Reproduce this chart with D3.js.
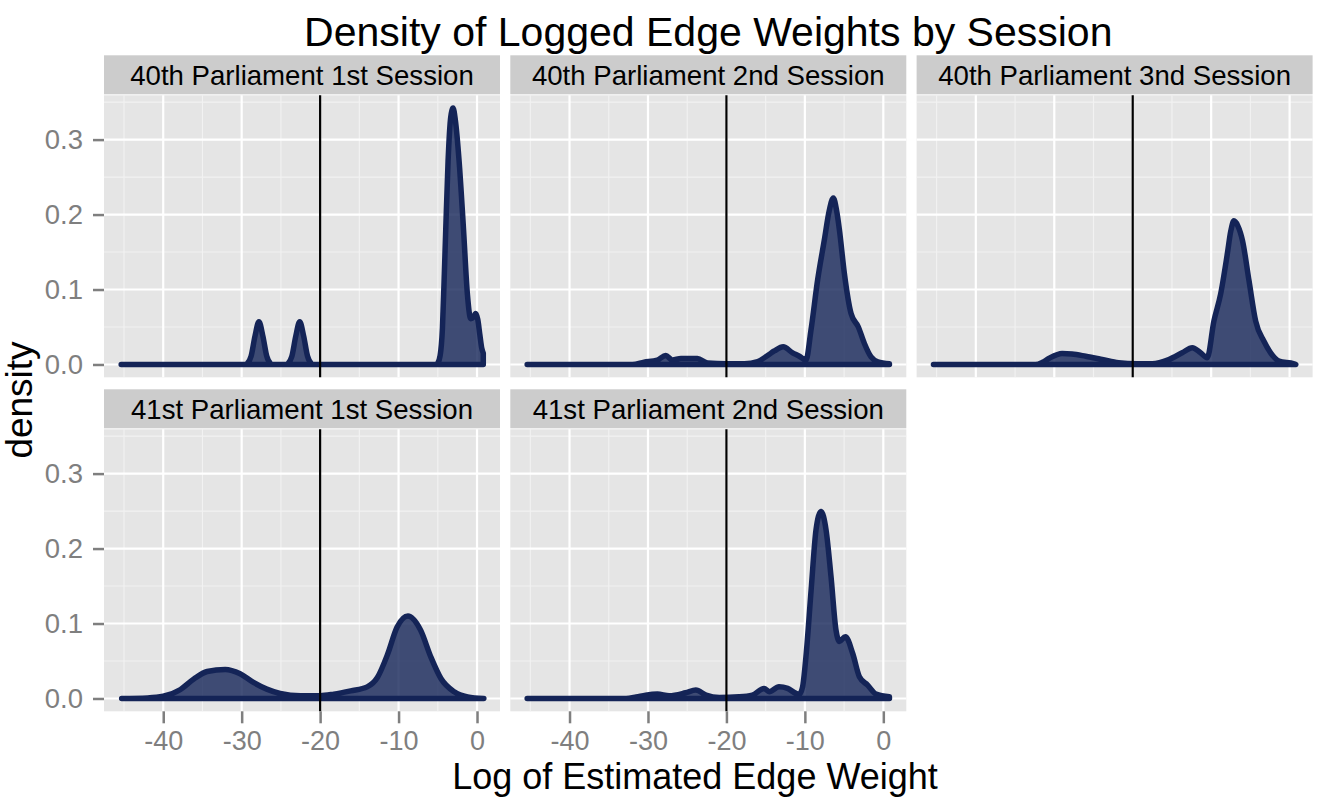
<!DOCTYPE html>
<html>
<head>
<meta charset="utf-8">
<script src="https://cdn.jsdelivr.net/npm/d3@7/dist/d3.min.js"></script>
<style>
body { margin: 0; background: #fff; }
text { font-family: "Liberation Sans", Arial, Helvetica, sans-serif; }
</style>
</head>
<body>
<svg width="1328" height="797"></svg>
<script>
const sessions = [
    '40th Parliament 1st Session',
    '40th Parliament 2nd Session',
    '40th Parliament 3nd Session',
    '41st Parliament 1st Session',
    '41st Parliament 2nd Session'
];

// density curves: [log weight, density]
const p40s1 = [[-45.36, 0], [-29.4, 0], [-29.3, 0.001], [-28.8, 0.011], [-28.3, 0.038], [-27.8, 0.057],
    [-27.3, 0.038], [-26.8, 0.011], [-26.3, 0.001], [-26.1, 0], [-24.2, 0], [-24.1, 0.001], [-23.6, 0.011],
    [-23.1, 0.038], [-22.6, 0.057], [-22.1, 0.038], [-21.6, 0.011], [-21.1, 0.001], [-20.9, 0], [-5.2, 0],
    [-5.0, 0.002], [-4.7, 0.012], [-4.41, 0.048], [-4.2, 0.11], [-3.98, 0.182], [-3.69, 0.271], [-3.35, 0.33],
    [-3.05, 0.342], [-2.75, 0.325], [-2.28, 0.271], [-1.73, 0.182], [-1.22, 0.093], [-0.8, 0.061],
    [-0.45, 0.063], [-0.18, 0.068], [0.1, 0.06], [0.37, 0.039], [0.6, 0.022], [0.8, 0.015]];
const p40s2 = [[-45.4, 0], [-32, 0], [-30.5, 0.003], [-28.8, 0.006], [-27.74, 0.012], [-26.9, 0.006],
    [-25.8, 0.008], [-24.7, 0.008], [-23.7, 0.008], [-22.4, 0.002], [-20, 0.001], [-17.7, 0.001],
    [-16.0, 0.004], [-14.75, 0.012], [-13.9, 0.018], [-12.76, 0.0235], [-11.56, 0.0155], [-10.7, 0.011],
    [-9.86, 0.0057], [-9.22, 0.046], [-8.37, 0.113], [-7.52, 0.166], [-6.9, 0.205], [-6.37, 0.222],
    [-5.95, 0.205], [-5.6, 0.18], [-4.97, 0.122], [-4.11, 0.068], [-3.18, 0.05], [-2.41, 0.028],
    [-1.56, 0.01], [-0.7, 0.0035], [0.78, 0.001]];
const p40s3 = [[-45.4, 0], [-32.4, 0], [-31.5, 0.003], [-30.7, 0.008], [-29.0, 0.0147], [-27.74, 0.014],
    [-26.0, 0.011], [-23.9, 0.0067], [-21.8, 0.0022], [-19.5, 0.001], [-17.5, 0.001], [-15.4, 0.0067],
    [-13.7, 0.0156], [-12.4, 0.0223], [-11.35, 0.0156], [-10.5, 0.009], [-9.65, 0.058], [-8.8, 0.0936],
    [-7.95, 0.147], [-7.5, 0.178], [-7.1, 0.1916], [-6.6, 0.185], [-6.0, 0.165], [-5.18, 0.112],
    [-4.33, 0.058], [-3.27, 0.031], [-2.42, 0.0156], [-1.35, 0.0045], [0.56, 0.001], [0.78, 0]];
const p41s1 = [[-45.3, 0], [-42, 0.0008], [-40, 0.003], [-37.8, 0.012], [-36.1, 0.026], [-34.4, 0.036],
    [-32.1, 0.0388], [-30.2, 0.033], [-28.5, 0.0214], [-26.8, 0.0125], [-25.1, 0.0067], [-22.5, 0.0036],
    [-20, 0.0036], [-18.25, 0.0058], [-16.1, 0.0102], [-14.0, 0.0155], [-12.7, 0.028], [-11.4, 0.059],
    [-10.2, 0.095], [-8.8, 0.11], [-7.2, 0.0913], [-5.9, 0.0557], [-4.6, 0.0267], [-2.9, 0.0089],
    [-1.2, 0.0022], [0.87, 0]];
const p41s2 = [[-45.4, 0], [-32.8, 0], [-31.5, 0.002], [-30.3, 0.0045], [-28.8, 0.006], [-27.3, 0.0036],
    [-25.2, 0.0076], [-23.9, 0.0112], [-22.6, 0.0045], [-20.9, 0.0013], [-18.4, 0.0022], [-16.7, 0.0045],
    [-15.2, 0.0134], [-14.55, 0.009], [-13.3, 0.0156], [-12.2, 0.0134], [-11.1, 0.0067], [-10.7, 0.0058],
    [-10.3, 0.015], [-9.86, 0.056], [-9.2, 0.145], [-8.58, 0.225], [-7.94, 0.2495], [-7.3, 0.225],
    [-6.67, 0.163], [-6.03, 0.091], [-5.6, 0.076], [-4.84, 0.0825], [-3.9, 0.06], [-3.05, 0.029],
    [-2.0, 0.0178], [-0.92, 0.0058], [0.78, 0.0022]];
const curves = [p40s1, p40s2, p40s3, p41s1, p41s2];

const xTicks = [-40, -30, -20, -10, 0];
const xMinor = [-45, -35, -25, -15, -5];
const yTicks = [0, 0.1, 0.2, 0.3];
const yMinor = [0.05, 0.15, 0.25, 0.35];
const xLimits = [-47.55, 2.93];
const yLimits = [-0.0171, 0.3591];
const cutoff = -20;

const svg = d3.select('svg');
const panelW = 396;
const panelH = 282;
const stripH = 39;
const left0 = 104;
const colStep = 406.3;
const top0 = 55.3;
const rowStep = 334;
const grey = '#7f7f7f';
const navy = '#142457';

const xScale = d3.scaleLinear().domain(xLimits).range([0, panelW]);
const yScale = d3.scaleLinear().domain(yLimits).range([panelH, 0]);

const area = d3.area()
    .x(d => xScale(d[0]))
    .y0(yScale(0))
    .y1(d => yScale(d[1]))
    .curve(d3.curveMonotoneX);

sessions.forEach((name, i) => {
    const col = i % 3;
    const row = Math.floor(i / 3);
    const sx = left0 + col * colStep;
    const sy = top0 + row * rowStep;

    // strip
    svg.append('rect')
        .attr('x', sx).attr('y', sy)
        .attr('width', panelW).attr('height', stripH)
        .attr('fill', '#cccccc');
    svg.append('text')
        .attr('x', sx + panelW / 2).attr('y', sy + 30)
        .attr('text-anchor', 'middle')
        .attr('font-size', 27.6)
        .attr('fill', '#000')
        .text(name);

    const g = svg.append('g')
        .attr('transform', `translate(${sx},${sy + stripH + 1})`);

    g.append('rect')
        .attr('width', panelW).attr('height', panelH)
        .attr('fill', '#e5e5e5');

    g.selectAll('.vminor').data(xMinor).join('line')
        .attr('x1', d => xScale(d)).attr('x2', d => xScale(d))
        .attr('y1', 0).attr('y2', panelH)
        .attr('stroke', '#f2f2f2').attr('stroke-width', 1.1);
    g.selectAll('.hminor').data(yMinor).join('line')
        .attr('y1', d => yScale(d)).attr('y2', d => yScale(d))
        .attr('x1', 0).attr('x2', panelW)
        .attr('stroke', '#f2f2f2').attr('stroke-width', 1.1);
    g.selectAll('.vmajor').data(xTicks).join('line')
        .attr('x1', d => xScale(d)).attr('x2', d => xScale(d))
        .attr('y1', 0).attr('y2', panelH)
        .attr('stroke', '#fff').attr('stroke-width', 2.2);
    g.selectAll('.hmajor').data(yTicks).join('line')
        .attr('y1', d => yScale(d)).attr('y2', d => yScale(d))
        .attr('x1', 0).attr('x2', panelW)
        .attr('stroke', '#fff').attr('stroke-width', 2.2);

    g.append('path')
        .attr('d', area(curves[i]))
        .attr('fill', navy)
        .attr('fill-opacity', 0.8)
        .attr('stroke', navy)
        .attr('stroke-width', 5.5)
        .attr('stroke-linejoin', 'round')
        .attr('stroke-linecap', 'round');

    g.append('line')
        .attr('x1', xScale(cutoff)).attr('x2', xScale(cutoff))
        .attr('y1', 0).attr('y2', panelH)
        .attr('stroke', '#000').attr('stroke-width', 2.2);

    if (col === 0) {
        const yAxis = d3.axisLeft(yScale)
            .tickValues(yTicks)
            .tickFormat(d3.format('.1f'))
            .tickSize(11)
            .tickPadding(10);
        const ya = g.append('g').call(yAxis);
        ya.select('.domain').remove();
        ya.selectAll('line').attr('stroke', grey).attr('stroke-width', 2.5);
        ya.selectAll('text')
            .attr('fill', grey)
            .attr('font-size', 27.5)
            .attr('font-family', '"Liberation Sans", Arial, sans-serif');
    }
    if (row === 1) {
        const xAxis = d3.axisBottom(xScale)
            .tickValues(xTicks)
            .tickSize(12)
            .tickPadding(8);
        const xa = g.append('g')
            .attr('transform', `translate(0,${panelH})`)
            .call(xAxis);
        xa.select('.domain').remove();
        xa.selectAll('line').attr('stroke', grey).attr('stroke-width', 2.5);
        xa.selectAll('text')
            .attr('fill', grey)
            .attr('font-size', 27)
            .attr('font-family', '"Liberation Sans", Arial, sans-serif')
            .text(d => d3.format('d')(d).replace('−', '-'));
    }
});

const plotLeft = left0;
const plotRight = left0 + 2 * colStep + panelW;

svg.append('text')
    .attr('x', (plotLeft + plotRight) / 2).attr('y', 46)
    .attr('text-anchor', 'middle')
    .attr('font-size', 41)
    .attr('fill', '#000')
    .text('Density of Logged Edge Weights by Session');

svg.append('text')
    .attr('x', 695).attr('y', 789)
    .attr('text-anchor', 'middle')
    .attr('font-size', 36)
    .attr('fill', '#000')
    .text('Log of Estimated Edge Weight');

svg.append('text')
    .attr('transform', 'translate(32,400) rotate(-90)')
    .attr('text-anchor', 'middle')
    .attr('font-size', 37)
    .attr('fill', '#000')
    .text('density');
</script>
</body>
</html>
